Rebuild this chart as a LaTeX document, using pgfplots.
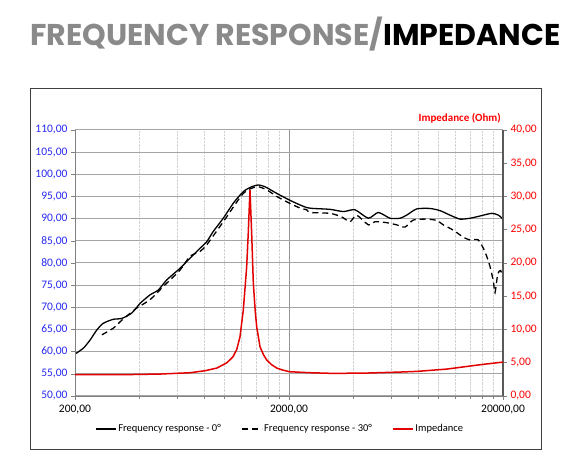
\documentclass[border=0pt]{standalone}
\usepackage{pgfplots}
\pgfplotsset{compat=1.18}
\usepackage{fontspec}
\setmainfont{Carlito}
\newfontfamily\titlefont{Poppins}
\definecolor{tblue}{RGB}{40,40,240}
\definecolor{tred}{RGB}{255,0,0}
\definecolor{imp}{RGB}{226,0,0}
\definecolor{titlegray}{RGB}{138,138,138}
\definecolor{gridg}{RGB}{165,165,165}
\definecolor{axg}{RGB}{128,128,128}

\pgfplotstableread{
f db
202 59.6
219 60.8
235 62.6
253 64.9
271 66.4
302 67.3
331 67.5
368 68.7
403 70.9
448 72.8
490 73.9
537 76.2
619 78.8
677 80.7
767 83.3
825 84.8
885 87.1
986 90.1
1099 93.5
1223 96.1
1338 97.2
1438 97.6
1545 97.2
1753 95.7
2009 94.2
2250 93.1
2420 92.5
2598 92.3
3110 92.1
3590 91.6
4066 92.0
4697 90.1
5229 91.4
5929 90.1
6608 90.1
7093 90.8
7907 92.2
9120 92.3
10164 91.8
11300 90.8
12590 89.9
14030 90.1
15620 90.6
17710 91.2
19020 90.8
20000 89.9
}\fra

\pgfplotstableread{
f db
267 63.8
302 65.3
331 67.1
388 69.8
448 71.7
517 74.7
619 78.4
689 81.5
767 82.6
825 84.1
986 89.3
1223 95.7
1413 97.2
1574 96.5
1753 95.0
2009 93.5
2250 92.4
2420 92.0
2507 91.4
3110 91.2
3525 90.4
3856 89.3
4141 90.8
4697 88.6
5046 89.3
5722 89.1
6370 88.6
6965 88.1
7620 89.7
8796 89.9
9800 89.6
10520 88.6
11720 87.4
13060 85.8
14030 85.2
15330 85.2
16480 82.5
17390 79.2
18030 75.8
18350 73.3
18900 77.5
19500 78.3
20000 76.5
}\frb

\pgfplotstableread{
f z
200 3.2
325 3.2
500 3.3
690 3.5
810 3.8
920 4.2
1025 5.0
1095 5.9
1140 7.0
1180 8.9
1223 12.9
1268 19.4
1290 24.5
1314 31.0
1338 24.5
1362 17.0
1390 12.8
1413 10.4
1464 7.4
1520 6.2
1574 5.4
1660 4.7
1753 4.2
1870 3.9
2009 3.65
2500 3.5
3212 3.4
4626 3.45
6608 3.6
7925 3.7
10940 4.05
15620 4.7
20000 5.1
}\imped

\begin{document}
\begin{tikzpicture}[x=1pt,y=1pt]
\useasboundingbox (0,0) rectangle (587,476);
\draw[color=black!75, line width=0.9pt] (30,27) rectangle (541,388);
\node[anchor=base west, inner sep=0pt] at (30,430)
  {\resizebox{530pt}{!}{\titlefont\bfseries\textcolor{titlegray}{FREQUENCY RESPONSE/}IMPEDANCE}};
\node[anchor=east, inner sep=0pt, text=tred, font=\fontsize{11}{13}\selectfont\bfseries] at (501,358) {Impedance (Ohm)};

\pgfplotsset{
  every axis/.append style={
    at={(75pt,80pt)}, anchor=south west,
    width=428pt, height=266pt, scale only axis,
    xmode=log, xmin=200, xmax=20000,
    tick align=outside,
    major tick length=4pt, minor tick length=3pt,
    tick style={axg, line width=0.6pt},
    ticklabel style={font=\fontsize{11.5}{13}\selectfont},
    /pgf/number format/assume math mode=true,
  }
}

\begin{axis}[
  ymin=50, ymax=110,
  ytick={50,55,...,110},
  axis x line*=bottom, axis y line*=left,
  axis line style={axg, line width=0.9pt},
  xtick={200,2000,20000},
  xticklabels={{200,00},{2000,00},{20000,00}},
  minor xtick={400,600,800,1000,1200,1400,1600,1800,4000,6000,8000,10000,12000,14000,16000,18000},
  xmajorgrids, xminorgrids, ymajorgrids,
  major x grid style={color=gray!85, line width=0.7pt},
  minor x grid style={color=gray!35, densely dotted, line width=0.6pt},
  major y grid style={color=gridg, line width=1.0pt},
  yticklabel style={text=tblue, /pgf/number format/.cd, fixed, fixed zerofill, precision=2, use comma},
  xticklabel style={text=black, yshift=-2pt},
]
\addplot[black, line width=1.3pt, smooth, tension=0.4] table[x=f, y=db] {\fra};
\addplot[black, line width=1.3pt, smooth, tension=0.4, dash pattern=on 6pt off 4pt] table[x=f, y=db] {\frb};
\end{axis}

\begin{axis}[
  ymin=0, ymax=40,
  ytick={0,5,...,40},
  axis y line*=right, axis x line=none,
  axis line style={black!65, line width=1.2pt},
  yticklabel style={text=tred, /pgf/number format/.cd, fixed, fixed zerofill, precision=2, use comma},
  legend style={at={(0.479,-0.124)}, anchor=center, draw=none, fill=none,
    font=\fontsize{10.5}{12}\selectfont, legend columns=3,
    /tikz/every even column/.append style={column sep=18pt}},
  legend image code/.code={\draw[#1] (0pt,0pt) -- (20pt,0pt);},
  legend cell align=left,
]
\addlegendimage{black, line width=1.3pt}
\addlegendentry{Frequency response - 0°}
\addlegendimage{black, line width=1.3pt, dash pattern=on 6pt off 4pt}
\addlegendentry{Frequency response - 30°}
\addplot[imp, line width=1.5pt] table[x=f, y=z] {\imped};
\addlegendentry{Impedance}
\end{axis}
\end{tikzpicture}
\end{document}
